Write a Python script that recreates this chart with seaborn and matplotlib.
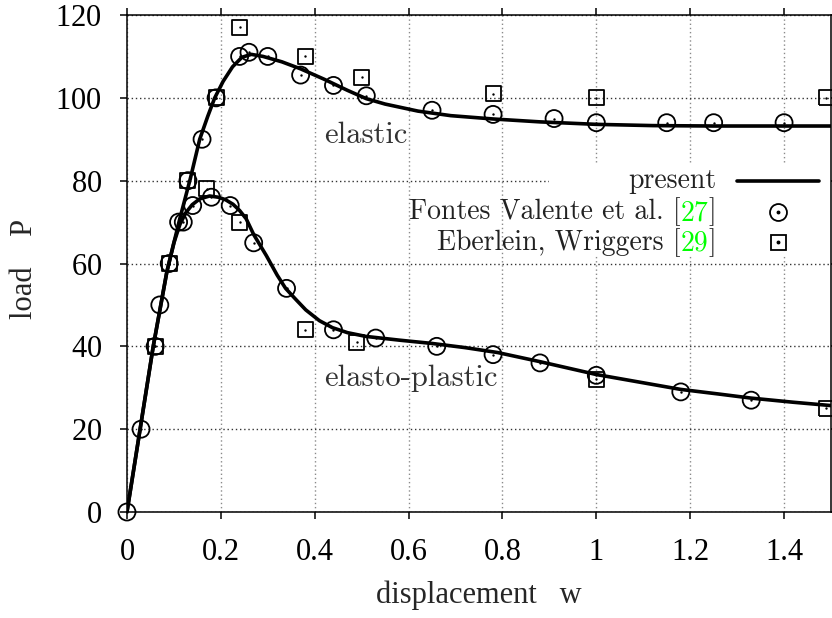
"""
Load-displacement curves: present solution vs. reference results
(Fontes Valente et al. [27], Eberlein & Wriggers [29]) for the elastic and
the elasto-plastic case.

Output: out.png
"""

import matplotlib
matplotlib.use("Agg")
import matplotlib.pyplot as plt
import seaborn as sns
from matplotlib.patches import Rectangle

# present solution, elastic
ELASTIC_W = [0.0, 0.028, 0.056, 0.085, 0.1, 0.113, 0.135, 0.155, 0.172, 0.187,
             0.205, 0.225, 0.245, 0.265, 0.29, 0.33, 0.37, 0.42, 0.47, 0.51,
             0.55, 0.62, 0.69, 0.78, 0.88, 1.0, 1.12, 1.25, 1.4, 1.5]
ELASTIC_P = [0.0, 20.0, 40.0, 58.0, 65.0, 71.0, 80.5, 90.0, 95.5, 100.0,
             104.0, 107.5, 109.8, 110.5, 110.0, 108.7, 107.0, 104.5, 101.8, 99.8,
             98.5, 96.8, 95.7, 94.9, 94.2, 93.6, 93.3, 93.2, 93.2, 93.2]

# present solution, elasto-plastic
PLASTIC_W = [0.0, 0.028, 0.056, 0.085, 0.1, 0.113, 0.125, 0.139, 0.155, 0.176,
             0.195, 0.21, 0.226, 0.24, 0.254, 0.27, 0.297, 0.32, 0.338, 0.36,
             0.381, 0.41, 0.438, 0.47, 0.509, 0.58, 0.65, 0.72, 0.79, 0.88,
             1.0, 1.1, 1.18, 1.26, 1.33, 1.42, 1.5]
PLASTIC_P = [0.0, 20.0, 40.0, 58.0, 65.0, 69.5, 72.2, 74.2, 75.6, 76.3,
             76.0, 75.4, 74.3, 72.8, 70.8, 67.0, 61.9, 57.2, 54.0, 51.3,
             48.8, 46.2, 44.5, 43.3, 42.4, 41.5, 40.7, 39.7, 38.5, 36.3,
             33.2, 31.2, 29.6, 28.5, 27.5, 26.5, 25.7]

# Fontes Valente et al. [27]
FV_W = [0.0, 0.03, 0.06, 0.07, 0.09, 0.11, 0.12, 0.13, 0.14, 0.16, 0.18, 0.19,
        0.22, 0.24, 0.26, 0.27, 0.30, 0.34, 0.37, 0.44, 0.44, 0.51, 0.53, 0.65,
        0.66, 0.78, 0.78, 0.88, 0.91, 1.0, 1.0, 1.15, 1.18, 1.25, 1.33, 1.4]
FV_P = [0.0, 20.0, 40.0, 50.0, 60.0, 70.0, 70.0, 80.0, 74.0, 90.0, 76.0, 100.0,
        74.0, 110.0, 111.0, 65.0, 110.0, 54.0, 105.5, 103.0, 44.0, 100.5, 42.0, 97.0,
        40.0, 96.0, 38.0, 36.0, 95.0, 94.0, 33.0, 94.0, 29.0, 94.0, 27.0, 94.0]

# Eberlein, Wriggers [29]
EW_W = [0.06, 0.09, 0.13, 0.17, 0.19, 0.24, 0.24, 0.38, 0.38, 0.49, 0.50,
        0.78, 1.0, 1.0, 1.49, 1.49]
EW_P = [40.0, 60.0, 80.0, 78.0, 100.0, 117.0, 70.0, 110.0, 44.0, 41.0, 105.0,
        101.0, 100.0, 32.0, 100.0, 25.0]

XTICKS = [0, 0.2, 0.4, 0.6, 0.8, 1.0, 1.2, 1.4]
XTICK_LABELS = ["0", "0.2", "0.4", "0.6", "0.8", "1", "1.2", "1.4"]
YTICKS = [0, 20, 40, 60, 80, 100, 120]

CM = dict(fontfamily="cmr10")
TEXT_GREY = "#333333"
REF_GREEN = "#00ff00"


def open_markers(ax, w, p, marker, size):
    sns.scatterplot(x=w, y=p, marker=marker, s=size, color="black",
                    facecolor="none", edgecolor="black", linewidth=1.3,
                    clip_on=False, zorder=4, legend=False, ax=ax)
    sns.scatterplot(x=w, y=p, marker="o", s=3, color="black", linewidth=0,
                    clip_on=False, zorder=4, legend=False, ax=ax)


def main() -> None:
    sns.set_style("ticks")
    plt.rcParams["font.family"] = ["Liberation Serif", "DejaVu Serif"]
    plt.rcParams["font.size"] = 22
    plt.rcParams["axes.linewidth"] = 1.1
    plt.rcParams["axes.formatter.use_mathtext"] = True

    fig = plt.figure(figsize=(8.32, 6.18), dpi=100)
    ax = fig.add_axes([0.1526, 0.1715, 0.8462, 0.8042])

    for w, p in [(ELASTIC_W, ELASTIC_P), (PLASTIC_W, PLASTIC_P)]:
        sns.lineplot(x=w, y=p, color="black", linewidth=2.6, sort=False,
                     estimator=None, zorder=3, ax=ax)

    open_markers(ax, FV_W, FV_P, "o", 150)
    open_markers(ax, EW_W, EW_P, "s", 117)

    ax.set_xlim(0, 1.5)
    ax.set_ylim(0, 120)
    ax.set_xticks(XTICKS)
    ax.set_xticklabels(XTICK_LABELS)
    ax.set_yticks(YTICKS)
    ax.tick_params(direction="out", length=5, width=1.1, top=True, right=True,
                   labelsize=22, colors="black")
    ax.tick_params(axis="x", pad=14)
    ax.tick_params(axis="y", pad=13)
    for side in ["top", "right", "left", "bottom"]:
        ax.spines[side].set_visible(True)
        ax.spines[side].set_color("black")

    ax.set_axisbelow(True)
    ax.xaxis.grid(True, color="#8a8a8a", linestyle=(0, (1, 2)), linewidth=1.0)
    ax.yaxis.grid(True, color="#333333", linestyle=(0, (1, 2)), linewidth=1.0)

    ax.set_xlabel("displacement   w", fontsize=22)
    ax.set_ylabel("load    P", fontsize=22)
    ax.xaxis.set_label_coords(0.5, -0.137)
    ax.yaxis.set_label_coords(-0.125, 0.49)

    ax.text(0.42, 89.2, "elastic", color=TEXT_GREY, fontsize=22,
            va="baseline", ha="left", zorder=5, **CM)
    ax.text(0.42, 30.4, "elasto-plastic", color=TEXT_GREY, fontsize=22,
            va="baseline", ha="left", zorder=5, **CM)

    # key: opaque white box, text right-aligned, sample on the right
    ax.add_patch(Rectangle((0.6, 0.515), 0.4, 0.187, transform=ax.transAxes,
                           facecolor="white", edgecolor="none", zorder=1))
    key_x, key_rows = 0.837, [0.666, 0.604, 0.543]
    ax.text(key_x, key_rows[0], "present", transform=ax.transAxes, ha="right",
            va="center", fontsize=20, color="#222222", zorder=5, **CM)
    for row, name, num in [(key_rows[1], "Fontes Valente et al.", "27"),
                           (key_rows[2], "Eberlein, Wriggers", "29")]:
        close = ax.text(key_x, row, "]", transform=ax.transAxes, ha="right",
                        va="center", fontsize=20, color="#222222", zorder=5, **CM)
        ref = ax.annotate(num, xy=(0, 0), xycoords=close, ha="right", va="bottom",
                          fontsize=20, color=REF_GREEN, zorder=5, **CM)
        ax.annotate(name + " [", xy=(0, 0), xycoords=ref, ha="right", va="bottom",
                    fontsize=20, color="#222222", zorder=5, **CM)

    ax.plot([0.867, 0.983], [key_rows[0]] * 2, color="black", linewidth=2.6,
            transform=ax.transAxes, clip_on=False, zorder=5)
    for row, marker, size in [(key_rows[1], "o", 12.2), (key_rows[2], "s", 10.8)]:
        ax.plot([0.925], [row], marker=marker, markersize=size, markerfacecolor="none",
                markeredgecolor="black", markeredgewidth=1.3, linestyle="none",
                transform=ax.transAxes, zorder=5)
        ax.plot([0.925], [row], marker="o", markersize=1.8, color="black",
                linestyle="none", transform=ax.transAxes, zorder=5)

    fig.savefig("out.png", dpi=100)
    plt.close(fig)


if __name__ == "__main__":
    main()
